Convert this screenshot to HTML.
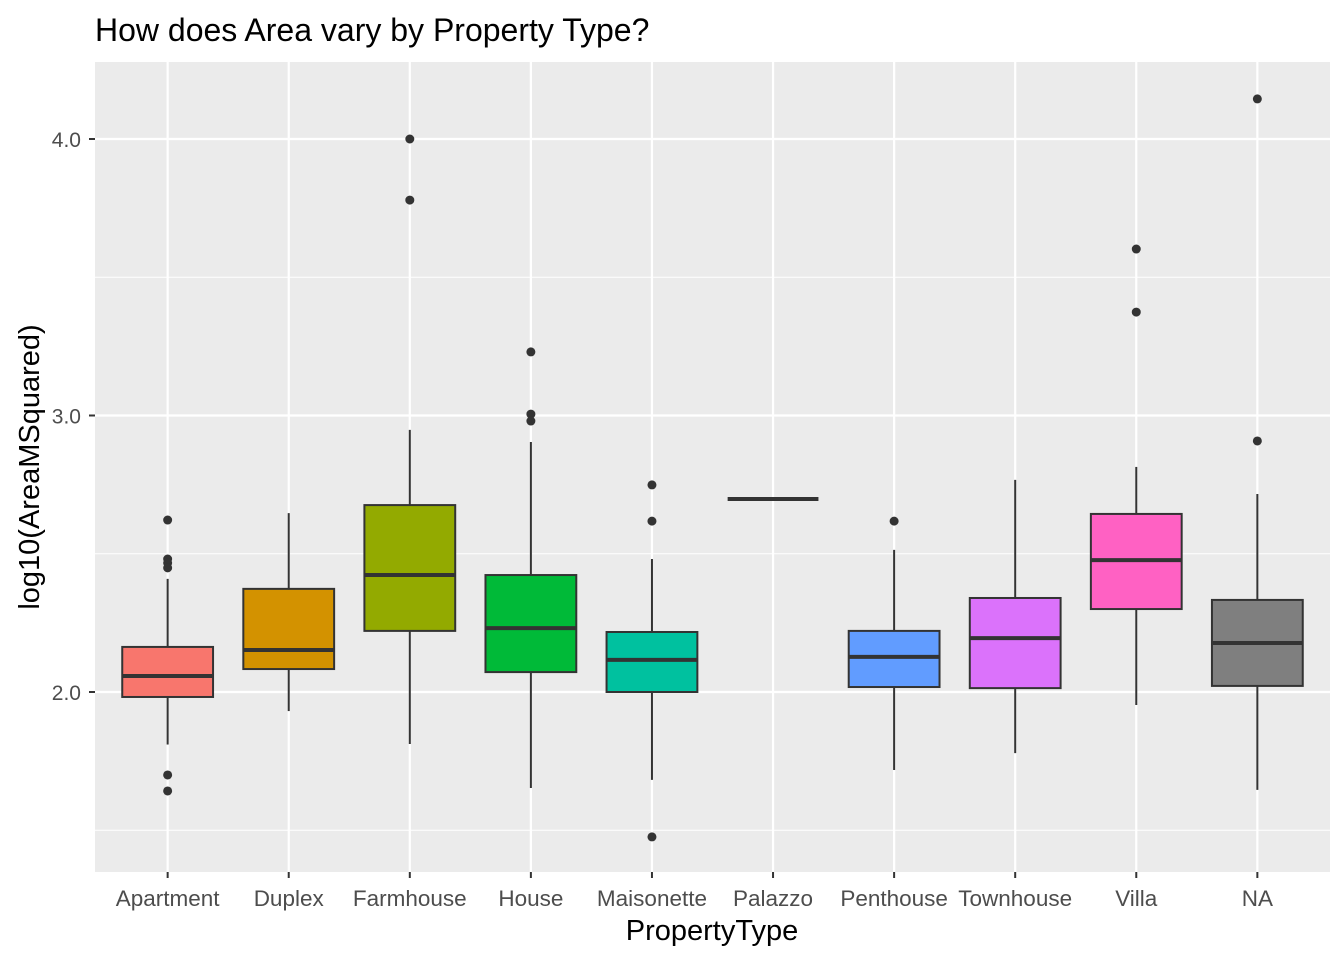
<!DOCTYPE html>
<html><head><meta charset="utf-8"><style>
body{margin:0;background:#fff;}
svg{display:block;font-family:"Liberation Sans",Arial,sans-serif;}
</style></head><body>
<svg id="chart" width="1344" height="960" viewBox="0 0 1344 960">
<text x="95" y="41" font-size="32" fill="#000">How does Area vary by Property Type?</text>
<rect x="95" y="62" width="1235" height="810" fill="#EBEBEB"/>
<g id="grid"></g>
<g id="marks"></g>
<g id="axes"></g>
<text x="712" y="940" font-size="29" text-anchor="middle" fill="#000">PropertyType</text>
<text transform="translate(39,467) rotate(-90)" font-size="29" text-anchor="middle" fill="#000">log10(AreaMSquared)</text>
</svg>
<script>
const categories=["Apartment","Duplex","Farmhouse","House","Maisonette","Palazzo","Penthouse","Townhouse","Villa","NA"];
const colors=["#F8766D","#D39200","#93AA00","#00BA38","#00C19F","#00B9E3","#619CFF","#DB72FB","#FF61C3","#7F7F7F"];
const lowWhisker=[1.81,1.931,1.812,1.653,1.682,2.698,1.718,1.779,1.953,1.646];
const q1=[1.982,2.083,2.221,2.072,2.0,2.698,2.018,2.014,2.300,2.022];
const median=[2.058,2.152,2.423,2.231,2.116,2.698,2.127,2.195,2.477,2.177];
const q3=[2.163,2.373,2.676,2.423,2.217,2.698,2.221,2.340,2.644,2.333];
const highWhisker=[2.409,2.647,2.948,2.904,2.481,2.698,2.514,2.767,2.814,2.716];
const outliers=[[2.622,2.481,2.467,2.449,1.70,1.642],[],[4.0,3.779],[3.23,3.005,2.98],[2.749,2.618,1.476],[],[2.618],[],[3.602,3.374],[4.145,2.908]];
const yTicks=[2.0,3.0,4.0];
const yTickLabels=["2.0","3.0","4.0"];
const yMinor=[1.5,2.5,3.5];

const NS="http://www.w3.org/2000/svg";
const px0=95,pw=1235,py0=62;
const step=pw/10.2;
function xs(i){return px0+(i+0.6)*step;}
function ys(v){return 692-(v-2)*276.5;}
function mk(tag,attrs,parent){const e=document.createElementNS(NS,tag);for(const k in attrs)e.setAttribute(k,attrs[k]);parent.appendChild(e);return e;}
const grid=document.getElementById('grid'),marks=document.getElementById('marks'),axes=document.getElementById('axes');
yMinor.forEach(v=>{const l=mk('line',{x1:px0,x2:px0+pw,y1:ys(v),y2:ys(v),stroke:'#fff','stroke-width':1.1},grid);

});
yTicks.forEach((v,i)=>{const l=mk('line',{x1:px0,x2:px0+pw,y1:ys(v),y2:ys(v),stroke:'#fff','stroke-width':2.2},grid);


const t=mk('line',{x1:px0-6,x2:px0,y1:ys(v),y2:ys(v),stroke:'#333','stroke-width':2},axes);


const tx=mk('text',{x:px0-14,y:ys(v)+8,'font-size':21,'text-anchor':'end',fill:'#4D4D4D'},axes);
tx.textContent=yTickLabels[i];

});
const bw=step*0.75;
categories.forEach((c,i)=>{const x=xs(i);
const g=mk('line',{x1:x,x2:x,y1:py0,y2:py0+810,stroke:'#fff','stroke-width':2.2},grid);


const t=mk('line',{x1:x,x2:x,y1:872,y2:878,stroke:'#333','stroke-width':2},axes);


const tx=mk('text',{x:x,y:906,'font-size':22.5,'text-anchor':'middle',fill:'#4D4D4D'},axes);
tx.textContent=c;


const grp=mk('g',{},marks);


const w1=mk('line',{x1:x,x2:x,y1:ys(highWhisker[i]),y2:ys(q3[i]),stroke:'#333','stroke-width':2},grp);


const w2=mk('line',{x1:x,x2:x,y1:ys(q1[i]),y2:ys(lowWhisker[i]),stroke:'#333','stroke-width':2},grp);


const r=mk('rect',{x:x-bw/2,y:ys(q3[i]),width:bw,height:Math.max(0,ys(q1[i])-ys(q3[i])),fill:colors[i],stroke:'#333','stroke-width':2},grp);


const m=mk('line',{x1:x-bw/2,x2:x+bw/2,y1:ys(median[i]),y2:ys(median[i]),stroke:'#333','stroke-width':4},grp);


outliers[i].forEach(v=>{const p=mk('circle',{cx:x,cy:ys(v),r:4.5,fill:'#333'},grp);

});
});
</script>
</body></html>
